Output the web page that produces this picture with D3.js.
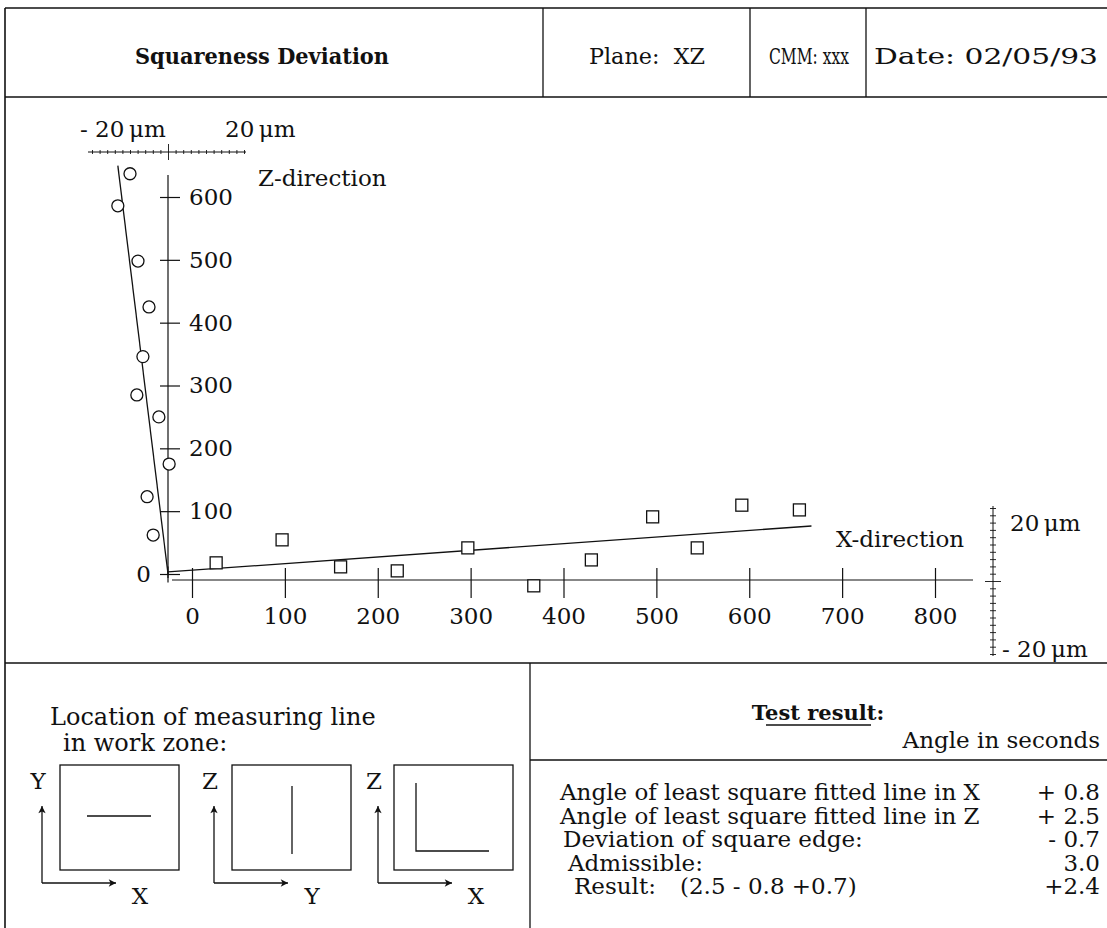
<!DOCTYPE html>
<html>
<head>
<meta charset="utf-8">
<script src="https://cdn.jsdelivr.net/npm/d3@7"></script>
<style>
  body { margin: 0; background: #fff; }
  svg { display: block; }
  text { font-family: "DejaVu Serif", serif; fill: #111; }
</style>
</head>
<body>
<script>
// Z-direction measurements (position along Z in mm, deviation in µm)
var zPos = [637, 586, 498, 425, 346, 285, 250, 175, 123, 62];
var zDev = [-10, -13.2, -7.9, -5, -6.6, -8.2, -2.4, 0.3, -5.5, -3.9];
// X-direction measurements
var xPos = [26, 97, 160, 221, 297, 368, 430, 496, 544, 592, 654];
var xDev = [4.7, 11.0, 3.6, 2.5, 8.8, -1.6, 5.5, 17.3, 8.8, 20.5, 19.2];
// least square fitted lines (end points)
var zFitPos = [0, 650], zFitDev = [0, -13.2];
var xFitPos = [-26, 667], xFitDev = [2.2, 14.8];
// tick values
var zTicks = [0, 100, 200, 300, 400, 500, 600];
var xTicks = [0, 100, 200, 300, 400, 500, 600, 700, 800];
var devTicks = d3.range(-20, 21, 2);
// header and result texts
var header = ["Squareness Deviation", "Plane:  XZ", "CMM: xxx", "Date: 02/05/93"];
var resultLabels = ["Angle of least square fitted line in X", "Angle of least square fitted line in Z",
  "Deviation of square edge:", "Admissible:", "Result:"];
var resultValues = ["+ 0.8", "+ 2.5", "- 0.7", "3.0", "+2.4"];

var W = 1107, H = 928;
var svg = d3.select("body").append("svg").attr("width", W).attr("height", H);
svg.append("rect").attr("width", W).attr("height", H).attr("fill", "#fff");

var ink = "#111";
function line(x1, y1, x2, y2, w) {
  return svg.append("line").attr("x1", x1).attr("y1", y1).attr("x2", x2).attr("y2", y2)
    .attr("stroke", ink).attr("stroke-width", w || 1.3);
}

// ---- frame ----
line(5, 8, W, 8, 1.6);
line(5, 8, 5, H, 1.6);
line(5, 97, W, 97, 1.6);
line(5, 663, W, 663, 1.6);
line(530, 663, 530, H, 1.3);
line(530, 760, W, 760, 1.3);
[543, 750, 866].forEach(function(x) { line(x, 8, x, 97, 1.3); });

// header
var hdr = [{x: 262, w: 254, fs: 22, bold: true}, {x: 647, w: 116, fs: 22}, {x: 809, w: 80, fs: 22}, {x: 986, w: 224, fs: 23}];
header.forEach(function(t, i) {
  svg.append("text").attr("x", hdr[i].x).attr("y", 64)
    .attr("text-anchor", "middle")
    .attr("font-size", hdr[i].fs)
    .attr("font-weight", hdr[i].bold ? "bold" : "normal")
    .attr("textLength", hdr[i].w).attr("lengthAdjust", "spacingAndGlyphs")
    .style("white-space", "pre")
    .text(t);
});

// ---- scales ----
var zScale = d3.scaleLinear().domain([0, 600]).range([574, 197]);
var devTop = d3.scaleLinear().domain([-20, 20]).range([92, 244]);
var xScale = d3.scaleLinear().domain([0, 800]).range([192, 935]);
var devRight = d3.scaleLinear().domain([-20, 20]).range([654, 508]);
var zAxisX = 168, xAxisY = 580;

// Z axis
line(zAxisX, 175, zAxisX, 578, 1.2);
var gz = svg.append("g").attr("transform", "translate(" + zAxisX + ",0)")
  .call(d3.axisRight(zScale).tickValues(zTicks).tickSize(12).tickPadding(9).tickFormat(d3.format("d")));
gz.select(".domain").remove();
gz.selectAll(".tick line").attr("x1", -8).attr("stroke", ink).attr("stroke-width", 1.2);
gz.selectAll(".tick text").attr("font-size", 23).attr("font-family", "DejaVu Serif").attr("fill", ink);
// the zero label sits left of the axis
gz.selectAll(".tick").filter(function(d) { return d === 0; }).select("text")
  .attr("x", -17).attr("text-anchor", "end");
gz.selectAll(".tick").filter(function(d) { return d === 0; }).append("line")
  .attr("x1", 0).attr("x2", 0).attr("y1", -8).attr("y2", 8).attr("stroke", ink).attr("stroke-width", 1.2);

// X axis
line(172, xAxisY, 973, xAxisY, 1.2);
var gx = svg.append("g").attr("transform", "translate(0," + xAxisY + ")")
  .call(d3.axisBottom(xScale).tickValues(xTicks).tickSize(18).tickPadding(10).tickFormat(d3.format("d")));
gx.select(".domain").remove();
gx.selectAll(".tick line").attr("y1", -12).attr("stroke", ink).attr("stroke-width", 1.2);
gx.selectAll(".tick text").attr("font-size", 23).attr("font-family", "DejaVu Serif").attr("fill", ink);

// top µm scale (Z deviations)
var topY = 152;
line(88, topY, 246, topY, 1);
var gt = svg.append("g").attr("transform", "translate(0," + topY + ")")
  .call(d3.axisBottom(devTop).tickValues(devTicks).tickSize(2).tickFormat(""));
gt.select(".domain").remove();
gt.selectAll(".tick line").attr("y1", -2).attr("stroke", ink).attr("stroke-width", 0.9);
gt.selectAll(".tick").filter(function(d) { return d === 0; }).select("line").attr("y1", -8).attr("y2", 8);
svg.append("text").attr("x", 80).attr("y", 137).attr("font-size", 23).text("- 20\u2009\u03bcm");
svg.append("text").attr("x", 225).attr("y", 137).attr("font-size", 23).text("20\u2009\u03bcm");
svg.append("text").attr("x", 258).attr("y", 186).attr("font-size", 23).text("Z-direction");

// right µm scale (X deviations)
var rightX = 993;
line(rightX, 506, rightX, 656, 1);
var gr = svg.append("g").attr("transform", "translate(" + rightX + ",0)")
  .call(d3.axisLeft(devRight).tickValues(devTicks).tickSize(3).tickFormat(""));
gr.select(".domain").remove();
gr.selectAll(".tick line").attr("x1", 3).attr("stroke", ink).attr("stroke-width", 0.9);
gr.selectAll(".tick").filter(function(d) { return d === 0; }).select("line").attr("x1", 8).attr("x2", -8);
svg.append("text").attr("x", 1010).attr("y", 531).attr("font-size", 23).text("20\u2009\u03bcm");
svg.append("text").attr("x", 1002).attr("y", 657).attr("font-size", 23).text("- 20\u2009\u03bcm");
svg.append("text").attr("x", 836).attr("y", 547).attr("font-size", 23).text("X-direction");

// fitted lines
var zLine = d3.line().x(function(d) { return zAxisX + (devTop(d[1]) - devTop(0)); }).y(function(d) { return zScale(d[0]); });
svg.append("path").datum(d3.zip(zFitPos, zFitDev)).attr("d", zLine)
  .attr("fill", "none").attr("stroke", ink).attr("stroke-width", 1.3);
var xLine = d3.line().x(function(d) { return xScale(d[0]); }).y(function(d) { return devRight(d[1]) - (devRight(0) - xAxisY); });
svg.append("path").datum(d3.zip(xFitPos, xFitDev)).attr("d", xLine)
  .attr("fill", "none").attr("stroke", ink).attr("stroke-width", 1.3);

// Z points (circles)
svg.selectAll("circle.zp").data(d3.zip(zPos, zDev)).enter().append("circle")
  .attr("class", "zp")
  .attr("cx", function(d) { return zAxisX + (devTop(d[1]) - devTop(0)); })
  .attr("cy", function(d) { return zScale(d[0]); })
  .attr("r", 6).attr("fill", "#fff").attr("stroke", ink).attr("stroke-width", 1.3);

// X points (squares)
var sq = 12;
svg.selectAll("rect.xp").data(d3.zip(xPos, xDev)).enter().append("rect")
  .attr("class", "xp")
  .attr("x", function(d) { return xScale(d[0]) - sq / 2; })
  .attr("y", function(d) { return devRight(d[1]) - (devRight(0) - xAxisY) - sq / 2; })
  .attr("width", sq).attr("height", sq)
  .attr("fill", "#fff").attr("stroke", ink).attr("stroke-width", 1.3);

// ---- bottom left: location of measuring line ----
svg.append("text").attr("x", 50).attr("y", 725).attr("font-size", 24).text("Location of measuring line");
svg.append("text").attr("x", 63).attr("y", 751).attr("font-size", 24).text("in work zone:");

var defs = svg.append("defs");
defs.append("marker").attr("id", "arr").attr("viewBox", "0 0 10 10").attr("refX", 9).attr("refY", 5)
  .attr("markerWidth", 7).attr("markerHeight", 7).attr("orient", "auto")
  .append("path").attr("d", "M1,1 L9,5 L1,9 L3,5 Z").attr("fill", ink);

var boxes = [
  {x: 60, v: "Y", h: "X", ax: 42, mark: "M87,816 L151,816"},
  {x: 232, v: "Z", h: "Y", ax: 214, mark: "M292,786 L292,854"},
  {x: 394, v: "Z", h: "X", ax: 378, mark: "M416,783 L416,851 L489,851"}
];
boxes.forEach(function(b) {
  svg.append("rect").attr("x", b.x).attr("y", 765).attr("width", 119).attr("height", 105)
    .attr("fill", "none").attr("stroke", ink).attr("stroke-width", 1.3);
  svg.append("path").attr("d", b.mark).attr("fill", "none").attr("stroke", ink).attr("stroke-width", 1.3);
  svg.append("path").attr("d", "M" + b.ax + ",883 L" + b.ax + ",806")
    .attr("stroke", ink).attr("stroke-width", 1.3).attr("marker-end", "url(#arr)");
  svg.append("path").attr("d", "M" + b.ax + ",883 L" + (b.ax + 74) + ",883")
    .attr("stroke", ink).attr("stroke-width", 1.3).attr("marker-end", "url(#arr)");
  svg.append("text").attr("x", b.ax - 4).attr("y", 789).attr("text-anchor", "middle").attr("font-size", 23).text(b.v);
  svg.append("text").attr("x", b.ax + 98).attr("y", 904).attr("text-anchor", "middle").attr("font-size", 23).text(b.h);
});

// ---- bottom right: test result ----
svg.append("text").attr("x", 818).attr("y", 720).attr("text-anchor", "middle")
  .attr("font-size", 21).attr("font-weight", "bold").text("Test result:");
line(766, 725, 871, 725, 1.3);
svg.append("text").attr("x", 1100).attr("y", 748).attr("text-anchor", "end").attr("font-size", 23).text("Angle in seconds");

var rowX = [560, 560, 563, 568, 574];
resultLabels.forEach(function(t, i) {
  svg.append("text").attr("x", rowX[i]).attr("y", 800 + i * 23.5).attr("font-size", 23).text(t);
  svg.append("text").attr("x", 1100).attr("y", 800 + i * 23.5).attr("text-anchor", "end").attr("font-size", 23).text(resultValues[i]);
});
svg.append("text").attr("x", 680).attr("y", 800 + 4 * 23.5).attr("font-size", 23).text("(2.5 - 0.8 +0.7)");
</script>
</body>
</html>
